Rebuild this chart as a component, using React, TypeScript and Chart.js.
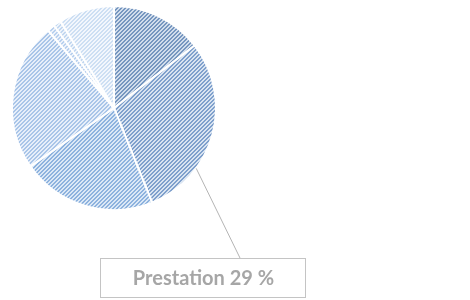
import React, { useEffect, useRef } from "react";
import { Chart, registerables } from "chart.js";

Chart.register(...registerables);

const categories = ["Catégorie A", "Prestation", "Catégorie C", "Catégorie D", "Catégorie E", "Catégorie F", "Catégorie G"];
const values = [14.5, 29.4, 21.4, 23.5, 1.2, 1.2, 8.8];
const stripeColors = ["#7696bf", "#7fa0cc", "#8db2de", "#a9c5e8", "#b8d0ee", "#c2d7f0", "#cddff3"];
const groundColors = ["#d1ddec", "#d9e4f1", "#dbe8f6", "#e7effa", "#ecf2fb", "#eef4fb", "#f3f7fd"];
const labelIndex = 1;
const labelText = "Prestation 29 %";

function makePattern(stripe: string, ground: string): CanvasPattern | string {
  const c = document.createElement("canvas");
  c.width = 4;
  c.height = 4;
  const ctx = c.getContext("2d");
  if (!ctx) return stripe;
  for (let x = 0; x < 4; x++) {
    for (let y = 0; y < 4; y++) {
      ctx.fillStyle = (x + y) % 4 < 2 ? stripe : ground;
      ctx.fillRect(x, y, 1, 1);
    }
  }
  return ctx.createPattern(c, "repeat") || stripe;
}

const calloutPlugin = {
  id: "callout",
  afterDraw(chart: any) {
    const meta = chart.getDatasetMeta(0);
    const arc = meta.data[labelIndex];
    if (!arc) return;
    const p = arc.getProps(["x", "y", "startAngle", "endAngle", "outerRadius"], true);
    const ang = p.startAngle + 0.7 * (p.endAngle - p.startAngle);
    const sx = p.x + p.outerRadius * Math.cos(ang);
    const sy = p.y + p.outerRadius * Math.sin(ang);
    const ctx = chart.ctx;
    const boxL = 100, boxT = 258, boxW = 205, boxH = 39;
    ctx.save();
    ctx.strokeStyle = "#b4b4b4";
    ctx.lineWidth = 1;
    ctx.beginPath();
    ctx.moveTo(sx, sy);
    ctx.lineTo(240, boxT);
    ctx.stroke();
    ctx.fillStyle = "#ffffff";
    ctx.fillRect(boxL, boxT, boxW, boxH);
    ctx.strokeStyle = "#c4c4c4";
    ctx.strokeRect(boxL + 0.5, boxT + 0.5, boxW, boxH);
    ctx.fillStyle = "#a6a6a6";
    ctx.font = "bold 20px Lato, 'Open Sans', sans-serif";
    ctx.textAlign = "center";
    ctx.textBaseline = "middle";
    ctx.fillText(labelText, boxL + boxW / 2 + 1, boxT + boxH / 2 + 1);
    ctx.restore();
  },
};

export default function App() {
  const ref = useRef<HTMLCanvasElement | null>(null);
  useEffect(() => {
    if (!ref.current) return;
    const bg = values.map((_, i) => makePattern(stripeColors[i], groundColors[i]));
    const chart = new Chart(ref.current, {
      type: "pie",
      data: {
        labels: categories,
        datasets: [
          {
            data: values,
            backgroundColor: bg as any,
            borderColor: "#ffffff",
            borderWidth: 2,
          },
        ],
      },
      options: {
        animation: false,
        responsive: true,
        maintainAspectRatio: false,
        layout: { padding: { left: 11, top: 4, right: 253, bottom: 88 } },
        plugins: { legend: { display: false }, tooltip: { enabled: false } },
      },
      plugins: [calloutPlugin],
    });
    return () => chart.destroy();
  }, []);
  return (
    <div style={{ position: "fixed", left: 0, top: 0, width: 470, height: 300, background: "#fff" }}>
      <canvas ref={ref} />
    </div>
  );
}
